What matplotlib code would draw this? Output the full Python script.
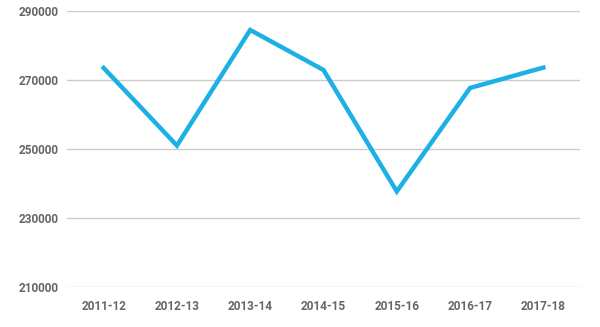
import matplotlib
matplotlib.use("Agg")
import matplotlib.pyplot as plt

categories = ["2011-12", "2012-13", "2013-14", "2014-15", "2015-16", "2016-17", "2017-18"]
values = [273500, 251000, 284500, 272900, 237700, 267700, 273600]
yticks = [210000, 230000, 250000, 270000, 290000]

plt.rcParams['font.family'] = ['Roboto', 'DejaVu Sans']

fig = plt.figure(figsize=(6.0, 3.27), dpi=100)
ax = fig.add_axes([67/600, 1 - 287/327, (580 - 67)/600, (287 - 11)/327])

x = list(range(len(categories)))
ax.plot(x, values, color="#1cb0e4", lw=3.2, solid_joinstyle="miter", zorder=3)

ax.set_xlim(-0.5, len(categories) - 0.5)
ax.set_ylim(210000, 290000)
ax.set_yticks(yticks)
ax.set_yticklabels([str(v) for v in yticks])
ax.set_xticks(x)
ax.set_xticklabels(categories)
ax.grid(axis="y", color="#cccccc", lw=1)
ax.set_axisbelow(True)
for s in ax.spines.values():
    s.set_visible(False)
ax.tick_params(axis="both", length=0, labelsize=8.5, colors="#666666")
ax.tick_params(axis="x", pad=9)
ax.tick_params(axis="y", pad=6)
for lbl in ax.get_xticklabels() + ax.get_yticklabels():
    lbl.set_fontweight("bold")

fig.savefig("out.png", dpi=100, facecolor="white")
